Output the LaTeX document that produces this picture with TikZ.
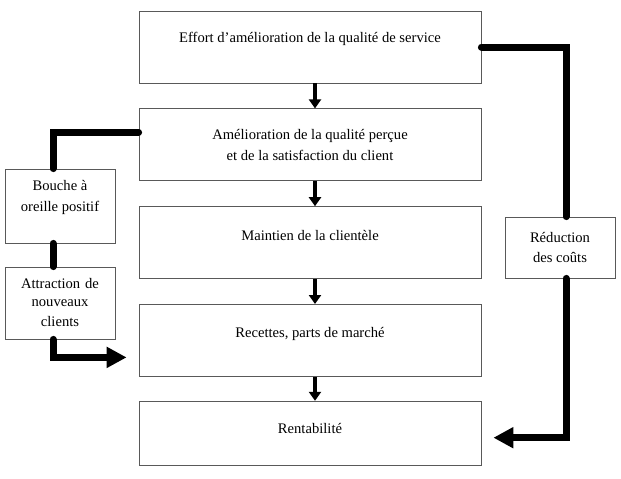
\documentclass[tikz,border=0pt]{standalone}
\usepackage{fontspec}
\setmainfont{Liberation Serif}
\usetikzlibrary{arrows.meta, positioning}
\tikzset{
  mainbox/.style  = {draw=black!65, line width=0.8pt, fill=white,
                     minimum width=342pt, minimum height=72pt, align=center,
                     inner sep=3pt},
  sidebox/.style  = {draw=black!65, line width=0.8pt, fill=white,
                     minimum width=110pt, align=center, inner sep=3pt},
  flow/.style     = {line width=7pt, line cap=round, color=black},
  flowarrow/.style= {flow, -{Triangle[length=20pt, width=20pt]}},
  smallarrow/.style = {line width=4.5pt, color=black,
                     -{Triangle[length=9pt, width=12pt]}},
}

\begin{document}
\begin{tikzpicture}[x=1pt, y=-1pt, every node/.style={font=\fontsize{14.6}{21}\selectfont}]
  \useasboundingbox (0,0) rectangle (621,479);
  % main chain
  \node[mainbox] (effort) at (310,47) {Effort d’amélioration de la qualité de service\\[-1pt]\mbox{}};
  \node[mainbox, below=25pt of effort] (percue) {Amélioration de la qualité perçue\\et de la satisfaction du client};
  \node[mainbox, below=25pt of percue] (clientele) {Maintien de la clientèle\\[-7pt]\mbox{}};
  \node[mainbox, below=25pt of clientele] (recettes) {Recettes, parts de marché\\[-5pt]\mbox{}};
  \node[mainbox, minimum height=64pt, below=24pt of recettes] (rent) {Rentabilité\\[-12pt]\mbox{}};
  % side boxes
  \node[sidebox, minimum height=74pt] (bouche) at (60,206) {Bouche à\\oreille positif\\[-1pt]\mbox{}};
  \node[sidebox, minimum height=72pt, text width=100pt] (attract) at (60,303) {Attraction de\\[-3pt]nouveaux\\[-1pt]clients};
  \node[sidebox, minimum height=61pt] (reduc) at (560,247.5) {Réduction\\[-1pt]des coûts};

  \draw[smallarrow] ([xshift=5pt]effort.south) -- ([xshift=5pt]percue.north);
  \draw[smallarrow] ([xshift=5pt]percue.south) -- ([xshift=5pt]clientele.north);
  \draw[smallarrow] ([xshift=5pt]clientele.south) -- ([xshift=5pt]recettes.north);
  \draw[smallarrow] ([xshift=5pt]recettes.south) -- ([xshift=5pt]rent.north);

  % cost loop
  \draw[flow] (effort.east) -| ([xshift=6pt]reduc.north);
  \draw[flowarrow] ([xshift=6pt]reduc.south) |- ([xshift=12pt, yshift=-4.5pt]rent.east);
  % word of mouth loop
  \draw[flow] ([yshift=12.5pt]percue.west) -| ([xshift=-7pt]bouche.north);
  \draw[flow] ([xshift=-7pt]bouche.south) -- ([xshift=-7pt]attract.north);
  \draw[flowarrow] ([xshift=-7pt]attract.south) |- ([xshift=-12pt, yshift=-17pt]recettes.west);
\end{tikzpicture}
\end{document}
